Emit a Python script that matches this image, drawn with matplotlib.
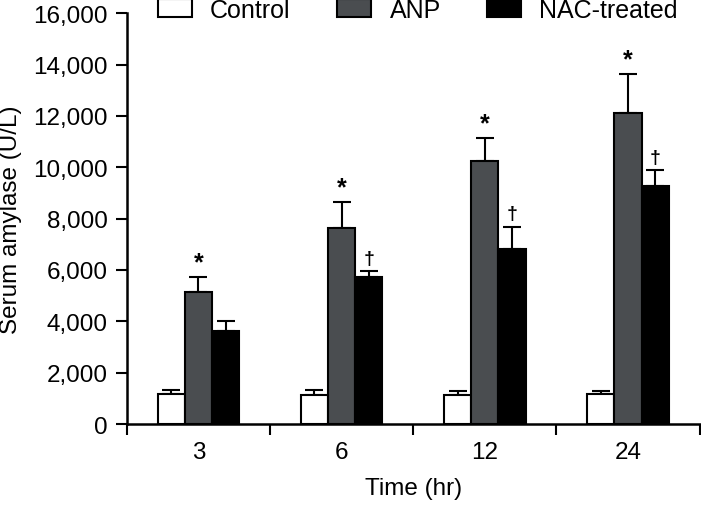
import matplotlib
matplotlib.use("Agg")
import matplotlib.pyplot as plt
import numpy as np

times = ["3", "6", "12", "24"]
groups = ["Control", "ANP", "NAC-treated"]
control = [1170, 1140, 1140, 1180]
control_err = [150, 180, 140, 120]
anp = [5150, 7620, 10240, 12100]
anp_err = [570, 1030, 890, 1520]
nac = [3620, 5720, 6820, 9270]
nac_err = [400, 230, 870, 620]
anp_marks = ["*", "*", "*", "*"]
nac_marks = ["", "†", "†", "†"]

plt.rcParams["font.family"] = ["Liberation Sans", "DejaVu Sans"]
plt.rcParams["font.size"] = 17.5

fig = plt.figure(figsize=(7.01, 5.06), dpi=100)
ax = fig.add_axes([0.181, 0.16, 0.817, 0.812])

x = np.arange(len(times))
width = 0.19
colors = ["white", "#4a4d50", "black"]
series = [control, anp, nac]
errs = [control_err, anp_err, nac_err]

for i, (vals, err) in enumerate(zip(series, errs)):
    pos = x + (i - 1) * width
    ax.bar(pos, vals, width=width, color=colors[i], edgecolor="black",
           linewidth=1.5, label=groups[i], zorder=3)
    ax.errorbar(pos, vals, yerr=[np.zeros(len(vals)), err], fmt="none",
                ecolor="black", elinewidth=1.5, capsize=6.5, capthick=1.5,
                zorder=2)

for j in range(len(times)):
    if anp_marks[j]:
        ax.annotate(anp_marks[j], (x[j], anp[j] + anp_err[j]),
                    xytext=(0, 2), textcoords="offset points",
                    ha="center", va="bottom", fontsize=18, fontweight="bold")
    if nac_marks[j]:
        ax.annotate(nac_marks[j], (x[j] + width, nac[j] + nac_err[j]),
                    xytext=(0, 3), textcoords="offset points",
                    ha="center", va="bottom", fontsize=14, fontweight="bold")

ax.set_xlim(-0.5, len(times) - 0.5)
ax.set_ylim(0, 16000)
ax.set_yticks(np.arange(0, 16001, 2000))
ax.set_yticklabels([f"{v:,}" for v in range(0, 16001, 2000)])
ax.set_xticks(x)
ax.set_xticklabels(times)
ax.set_xticks(np.arange(-0.5, len(times), 1.0), minor=True)
ax.tick_params(axis="x", which="major", length=0, pad=12)
ax.tick_params(axis="x", which="minor", length=8, width=1.5, direction="out")
ax.tick_params(axis="y", length=8, width=1.5, direction="out", pad=6)

for s in ["top", "right"]:
    ax.spines[s].set_visible(False)
for s in ["left", "bottom"]:
    ax.spines[s].set_linewidth(1.8)

ax.set_ylabel("Serum amylase (U/L)", labelpad=8)
ax.set_xlabel("Time (hr)", labelpad=10)

fig.legend(loc="center left", bbox_to_anchor=(0.225, 0.979), ncol=3,
           frameon=False, borderpad=0, borderaxespad=0, handlelength=1.38,
           handleheight=0.78, handletextpad=0.72, columnspacing=1.85,
           fontsize=18)

fig.savefig("out.png", dpi=100)
